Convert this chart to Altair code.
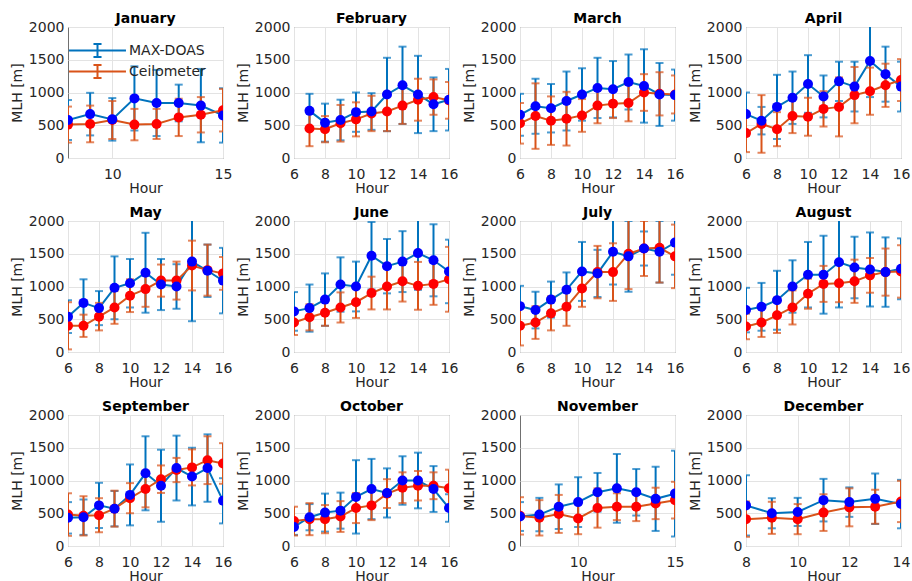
import altair as alt
import pandas as pd

BLUE_LINE = "#0072BD"
RED_LINE = "#D95319"
BLUE_DOT = "#0000FF"
RED_DOT = "#FF0000"
FONT = "DejaVu Sans"

MONTHS = ["January", "February", "March", "April", "May", "June",
          "July", "August", "September", "October", "November", "December"]

# ---- January ----
hours_jan = [8, 9, 10, 11, 12, 13, 14, 15]
doas_jan = [580, 670, 590, 910, 840, 840, 800, 650]
doas_sd_jan = [305, 325, 325, 490, 505, 280, 560, 415]
ceil_jan = [510, 520, 580, 510, 520, 620, 660, 730]
ceil_sd_jan = [275, 280, 290, 240, 230, 285, 270, 325]

# ---- February ----
hours_feb = [7, 8, 9, 10, 11, 12, 13, 14, 15, 16]
doas_feb = [720, 540, 580, 700, 710, 970, 1110, 970, 820, 890]
doas_sd_feb = [260, 290, 310, 300, 280, 560, 590, 590, 410, 470]
ceil_feb = [450, 440, 530, 590, 680, 710, 800, 890, 930, 880]
ceil_sd_feb = [270, 200, 280, 260, 270, 300, 280, 320, 270, 280]

# ---- March ----
hours_mar = [6, 7, 8, 9, 10, 11, 12, 13, 14, 15, 16]
doas_mar = [660, 790, 760, 870, 970, 1070, 1050, 1160, 1100, 970, 960]
doas_sd_mar = [320, 420, 370, 450, 400, 460, 430, 420, 560, 480, 390]
ceil_mar = [530, 640, 570, 600, 650, 800, 830, 840, 1000, 980, 970]
ceil_sd_mar = [310, 500, 370, 410, 250, 270, 220, 280, 280, 330, 290]

# ---- April ----
hours_apr = [6, 7, 8, 9, 10, 11, 12, 13, 14, 15, 16]
doas_apr = [670, 570, 780, 920, 1130, 940, 1170, 1090, 1480, 1280, 1090]
doas_sd_apr = [330, 210, 490, 400, 440, 320, 300, 380, 550, 420, 380]
ceil_apr = [380, 520, 440, 640, 630, 750, 780, 960, 1020, 1110, 1190]
ceil_sd_apr = [290, 440, 260, 260, 290, 270, 450, 430, 360, 330, 320]

# ---- May ----
hours_may = [6, 7, 8, 9, 10, 11, 12, 13, 14, 15, 16]
doas_may = [540, 750, 670, 980, 1050, 1210, 1030, 1000, 1380, 1240, 1090]
doas_sd_may = [250, 360, 260, 480, 370, 610, 390, 340, 910, 400, 500]
ceil_may = [400, 400, 540, 680, 860, 960, 1090, 1090, 1320, 1250, 1200]
ceil_sd_may = [360, 170, 210, 250, 250, 270, 245, 290, 380, 390, 250]

# ---- June ----
hours_jun = [6, 7, 8, 9, 10, 11, 12, 13, 14, 15, 16]
doas_jun = [620, 670, 800, 1030, 1000, 1470, 1310, 1380, 1510, 1400, 1230]
doas_sd_jun = [295, 360, 400, 415, 380, 515, 415, 465, 560, 550, 485]
ceil_jun = [450, 530, 600, 680, 760, 900, 1000, 1080, 1010, 1040, 1110]
ceil_sd_jun = [190, 200, 200, 230, 240, 250, 350, 310, 365, 320, 495]

# ---- July ----
hours_jul = [6, 7, 8, 9, 10, 11, 12, 13, 14, 15, 16]
doas_jul = [700, 640, 800, 950, 1230, 1200, 1530, 1460, 1580, 1530, 1670]
doas_sd_jul = [310, 280, 275, 265, 450, 360, 500, 540, 260, 470, 490]
ceil_jul = [400, 450, 590, 690, 970, 1220, 1220, 1500, 1580, 1590, 1460]
ceil_sd_jul = [300, 250, 260, 290, 280, 400, 440, 540, 420, 530, 485]

# ---- August ----
hours_aug = [6, 7, 8, 9, 10, 11, 12, 13, 14, 15, 16]
doas_aug = [640, 690, 790, 1000, 1180, 1180, 1370, 1290, 1260, 1220, 1270]
doas_sd_aug = [340, 365, 450, 400, 500, 595, 690, 470, 565, 530, 465]
ceil_aug = [390, 450, 560, 680, 890, 1040, 1050, 1080, 1170, 1220, 1230]
ceil_sd_aug = [195, 220, 270, 260, 230, 275, 290, 330, 265, 360, 400]

# ---- September ----
hours_sep = [6, 7, 8, 9, 10, 11, 12, 13, 14, 15, 16]
doas_sep = [430, 440, 620, 570, 780, 1110, 920, 1190, 1060, 1190, 690]
doas_sd_sep = [240, 270, 345, 270, 465, 565, 550, 495, 440, 515, 345]
ceil_sep = [480, 460, 470, 570, 730, 870, 1020, 1160, 1200, 1310, 1260]
ceil_sd_sep = [325, 300, 260, 275, 230, 280, 210, 185, 275, 365, 310]

# ---- October ----
hours_oct = [6, 7, 8, 9, 10, 11, 12, 13, 14, 15, 16]
doas_oct = [290, 440, 510, 540, 750, 870, 810, 1000, 1000, 870, 580]
doas_sd_oct = [120, 200, 290, 275, 560, 460, 375, 370, 425, 350, 210]
ceil_oct = [380, 410, 410, 450, 580, 620, 800, 890, 920, 920, 880]
ceil_sd_oct = [220, 245, 215, 235, 230, 225, 220, 235, 225, 205, 285]

# ---- November ----
hours_nov = [7, 8, 9, 10, 11, 12, 13, 14, 15]
doas_nov = [450, 480, 600, 670, 820, 880, 820, 720, 800]
doas_sd_nov = [220, 255, 340, 380, 295, 525, 355, 490, 655]
ceil_nov = [460, 430, 490, 420, 580, 600, 600, 650, 700]
ceil_sd_nov = [285, 270, 290, 240, 300, 205, 220, 240, 280]

# ---- December ----
hours_dec = [8, 9, 10, 11, 12, 13, 14]
doas_dec = [620, 500, 520, 700, 670, 720, 640]
doas_sd_dec = [460, 230, 215, 325, 225, 385, 370]
ceil_dec = [410, 430, 410, 510, 590, 600, 680]
ceil_sd_dec = [270, 245, 230, 280, 290, 260, 315]

# x-axis extents and tick labels for each panel
x_domains = [[8, 15], [6, 16], [6, 16], [6, 16], [6, 16], [6, 16],
             [6, 16], [6, 16], [6, 16], [6, 16], [7, 15], [8, 14]]
x_ticks = [[10, 15], [6, 8, 10, 12, 14, 16], [6, 8, 10, 12, 14, 16],
           [6, 8, 10, 12, 14, 16], [6, 8, 10, 12, 14, 16], [6, 8, 10, 12, 14, 16],
           [6, 8, 10, 12, 14, 16], [6, 8, 10, 12, 14, 16], [6, 8, 10, 12, 14, 16],
           [6, 8, 10, 12, 14, 16], [10, 15], [8, 10, 12, 14]]
y_ticks = [0, 500, 1000, 1500, 2000]

SERIES = ["MAX-DOAS", "Ceilometer"]

panel_data = [
    (hours_jan, doas_jan, doas_sd_jan, ceil_jan, ceil_sd_jan),
    (hours_feb, doas_feb, doas_sd_feb, ceil_feb, ceil_sd_feb),
    (hours_mar, doas_mar, doas_sd_mar, ceil_mar, ceil_sd_mar),
    (hours_apr, doas_apr, doas_sd_apr, ceil_apr, ceil_sd_apr),
    (hours_may, doas_may, doas_sd_may, ceil_may, ceil_sd_may),
    (hours_jun, doas_jun, doas_sd_jun, ceil_jun, ceil_sd_jun),
    (hours_jul, doas_jul, doas_sd_jul, ceil_jul, ceil_sd_jul),
    (hours_aug, doas_aug, doas_sd_aug, ceil_aug, ceil_sd_aug),
    (hours_sep, doas_sep, doas_sd_sep, ceil_sep, ceil_sd_sep),
    (hours_oct, doas_oct, doas_sd_oct, ceil_oct, ceil_sd_oct),
    (hours_nov, doas_nov, doas_sd_nov, ceil_nov, ceil_sd_nov),
    (hours_dec, doas_dec, doas_sd_dec, ceil_dec, ceil_sd_dec),
]

# legend glyph: a horizontal line with an error bar, wider than the symbol box
LEGEND_PATH = "M-4.38,0H4.38M0,-1V1M-0.62,-1H0.62M-0.62,1H0.62"

color_scale = alt.Scale(domain=SERIES, range=[BLUE_LINE, RED_LINE])
fill_scale = alt.Scale(domain=SERIES, range=[BLUE_DOT, RED_DOT])

legend_def = alt.Legend(
    title=None, orient="none", legendX=22, legendY=16,
    symbolType=LEGEND_PATH, symbolSize=169, symbolStrokeWidth=2,
    rowPadding=0, labelFont=FONT, labelFontSize=14,
    labelColor="#262626", labelOffset=24,
)


def make_panel(i):
    hours, d, dsd, c, csd = panel_data[i]
    rows = []
    for h, m, s in zip(hours, d, dsd):
        rows.append({"hour": h, "series": "MAX-DOAS", "mlh": m, "lo": m - s, "hi": m + s})
    for h, m, s in zip(hours, c, csd):
        rows.append({"hour": h, "series": "Ceilometer", "mlh": m, "lo": m - s, "hi": m + s})
    df = pd.DataFrame(rows)

    x_axis = alt.Axis(values=x_ticks[i], title="Hour", format="d")
    x = alt.X("hour:Q",
              scale=alt.Scale(domain=x_domains[i], nice=False, zero=False),
              axis=x_axis)
    y_scale = alt.Scale(domain=[0, 2000], nice=False)
    y_axis = alt.Axis(values=y_ticks, title="MLH [m]", format="d")
    y = alt.Y("mlh:Q", scale=y_scale, axis=y_axis)
    y_lo = alt.Y("lo:Q", scale=y_scale, axis=y_axis)
    y_hi = alt.Y("hi:Q", scale=y_scale, axis=y_axis)

    base = alt.Chart(df)
    layers = []
    for s_name in SERIES:
        sub = base.transform_filter(alt.datum.series == s_name)
        line = sub.mark_line(strokeWidth=2, clip=True).encode(
            x=x, y=y,
            stroke=alt.Stroke("series:N", scale=color_scale, legend=legend_def))
        rule = sub.mark_rule(strokeWidth=2, clip=True).encode(
            x=x, y=y_lo, y2="hi:Q",
            color=alt.Color("series:N", scale=color_scale, legend=None))
        cap_lo = sub.mark_tick(orient="horizontal", size=8, thickness=2, clip=True).encode(
            x=x, y=y_lo,
            color=alt.Color("series:N", scale=color_scale, legend=None))
        cap_hi = sub.mark_tick(orient="horizontal", size=8, thickness=2, clip=True).encode(
            x=x, y=y_hi,
            color=alt.Color("series:N", scale=color_scale, legend=None))
        layers += [line, rule, cap_lo, cap_hi]
    for s_name in ["Ceilometer", "MAX-DOAS"]:
        sub = base.transform_filter(alt.datum.series == s_name)
        pts = sub.mark_point(filled=True, size=100, opacity=1, clip=True).encode(
            x=x, y=y,
            fill=alt.Fill("series:N", scale=fill_scale, legend=None))
        layers.append(pts)

    return alt.layer(*layers).properties(
        width=155, height=131,
        title=alt.TitleParams(MONTHS[i], font=FONT, fontSize=14, fontWeight="bold",
                              color="#000000", offset=-6),
    )


panels = [make_panel(i) for i in range(12)]

chart = alt.concat(*panels, columns=4, spacing={"row": 63, "column": 71},
                   bounds="flush").configure_view(
    stroke="#707070", strokeWidth=1,
).configure_axis(
    labelFont=FONT, labelFontSize=14, labelColor="#262626",
    titleFont=FONT, titleFontSize=14, titleColor="#262626", titleFontWeight="normal",
    grid=True, gridColor="#e3e3e3", gridWidth=1, ticks=False, domain=False,
    labelOverlap=False, labelFlush=False,
).configure_axisX(
    labelPadding=9, titlePadding=0,
).configure_axisY(
    labelPadding=4, titlePadding=4,
).properties(
    padding={"left": 9, "top": 11, "right": 0, "bottom": 0},
    background="white",
)

chart.save("out.html", embed_options={"renderer": "svg", "actions": False})
